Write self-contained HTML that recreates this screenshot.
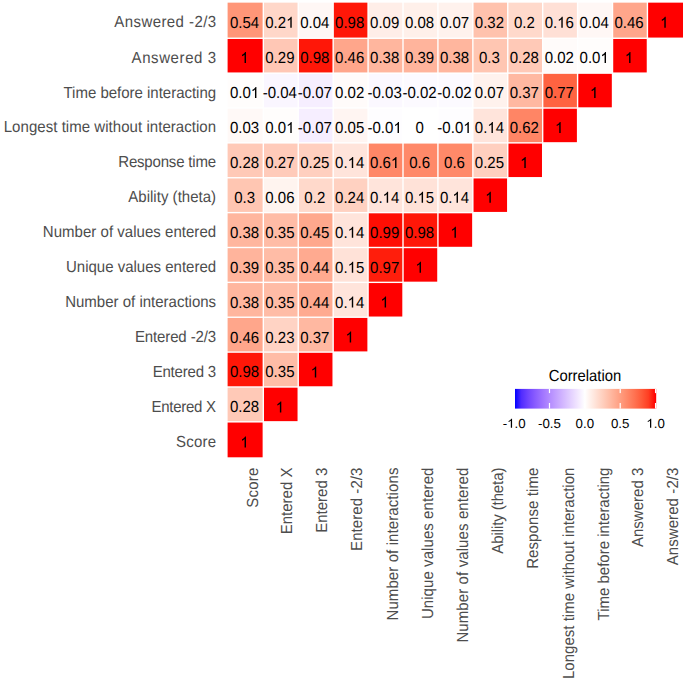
<!DOCTYPE html>
<html><head><meta charset="utf-8"><style>
html,body{margin:0;padding:0;background:#fff;}
svg{display:block;}
text{font-family:"Liberation Sans",sans-serif;text-rendering:geometricPrecision;}
.n{font-size:16.000px;fill:#000;}
.yl{font-size:16.000px;fill:#4D4D4D;text-anchor:end;}
.xl{font-size:16.000px;fill:#4D4D4D;text-anchor:end;}
.lt{font-size:13.100px;fill:#000;}
.ttl{font-size:16px;fill:#000;text-anchor:middle;}
</style></head><body>
<svg width="685" height="682" viewBox="0 0 685 682">
<rect x="227.60" y="2.65" width="35.02" height="34.92" fill="#FF9678"/>
<rect x="264.02" y="2.65" width="33.52" height="34.92" fill="#FFD7C9"/>
<rect x="298.94" y="2.65" width="33.52" height="34.92" fill="#FFF7F5"/>
<rect x="333.86" y="2.65" width="33.52" height="34.92" fill="#FF1708"/>
<rect x="368.78" y="2.65" width="33.52" height="34.92" fill="#FFEEE8"/>
<rect x="403.70" y="2.65" width="33.52" height="34.92" fill="#FFF0EA"/>
<rect x="438.62" y="2.65" width="33.52" height="34.92" fill="#FFF2ED"/>
<rect x="473.54" y="2.65" width="33.52" height="34.92" fill="#FFC2AD"/>
<rect x="508.46" y="2.65" width="33.52" height="34.92" fill="#FFD9CB"/>
<rect x="543.38" y="2.65" width="33.52" height="34.92" fill="#FFE0D6"/>
<rect x="578.30" y="2.65" width="33.52" height="34.92" fill="#FFF7F5"/>
<rect x="613.22" y="2.65" width="33.52" height="34.92" fill="#FFA68B"/>
<rect x="648.14" y="2.65" width="34.86" height="34.92" fill="#FF0000"/>
<rect x="227.60" y="38.97" width="35.02" height="33.47" fill="#FF0000"/>
<rect x="264.02" y="38.97" width="33.52" height="33.47" fill="#FFC7B5"/>
<rect x="298.94" y="38.97" width="33.52" height="33.47" fill="#FF1708"/>
<rect x="333.86" y="38.97" width="33.52" height="33.47" fill="#FFA68B"/>
<rect x="368.78" y="38.97" width="33.52" height="33.47" fill="#FFB69E"/>
<rect x="403.70" y="38.97" width="33.52" height="33.47" fill="#FFB49C"/>
<rect x="438.62" y="38.97" width="33.52" height="33.47" fill="#FFB69E"/>
<rect x="473.54" y="38.97" width="33.52" height="33.47" fill="#FFC6B2"/>
<rect x="508.46" y="38.97" width="33.52" height="33.47" fill="#FFC9B7"/>
<rect x="543.38" y="38.97" width="33.52" height="33.47" fill="#FFFBFA"/>
<rect x="578.30" y="38.97" width="33.52" height="33.47" fill="#FFFDFC"/>
<rect x="613.22" y="38.97" width="33.52" height="33.47" fill="#FF0000"/>
<rect x="227.60" y="73.84" width="35.02" height="33.47" fill="#FFFDFC"/>
<rect x="264.02" y="73.84" width="33.52" height="33.47" fill="#FAF6FF"/>
<rect x="298.94" y="73.84" width="33.52" height="33.47" fill="#F6EEFF"/>
<rect x="333.86" y="73.84" width="33.52" height="33.47" fill="#FFFBFA"/>
<rect x="368.78" y="73.84" width="33.52" height="33.47" fill="#FBF8FF"/>
<rect x="403.70" y="73.84" width="33.52" height="33.47" fill="#FCFAFF"/>
<rect x="438.62" y="73.84" width="33.52" height="33.47" fill="#FCFAFF"/>
<rect x="473.54" y="73.84" width="33.52" height="33.47" fill="#FFF2ED"/>
<rect x="508.46" y="73.84" width="33.52" height="33.47" fill="#FFB8A1"/>
<rect x="543.38" y="73.84" width="33.52" height="33.47" fill="#FF6341"/>
<rect x="578.30" y="73.84" width="33.52" height="33.47" fill="#FF0000"/>
<rect x="227.60" y="108.71" width="35.02" height="33.47" fill="#FFF9F7"/>
<rect x="264.02" y="108.71" width="33.52" height="33.47" fill="#FFFDFC"/>
<rect x="298.94" y="108.71" width="33.52" height="33.47" fill="#F6EEFF"/>
<rect x="333.86" y="108.71" width="33.52" height="33.47" fill="#FFF5F2"/>
<rect x="368.78" y="108.71" width="33.52" height="33.47" fill="#FEFDFF"/>
<rect x="403.70" y="108.71" width="33.52" height="33.47" fill="#FFFFFF"/>
<rect x="438.62" y="108.71" width="33.52" height="33.47" fill="#FEFDFF"/>
<rect x="473.54" y="108.71" width="33.52" height="33.47" fill="#FFE4DB"/>
<rect x="508.46" y="108.71" width="33.52" height="33.47" fill="#FF8565"/>
<rect x="543.38" y="108.71" width="33.52" height="33.47" fill="#FF0000"/>
<rect x="227.60" y="143.58" width="35.02" height="33.47" fill="#FFC9B7"/>
<rect x="264.02" y="143.58" width="33.52" height="33.47" fill="#FFCBBA"/>
<rect x="298.94" y="143.58" width="33.52" height="33.47" fill="#FFCFBF"/>
<rect x="333.86" y="143.58" width="33.52" height="33.47" fill="#FFE4DB"/>
<rect x="368.78" y="143.58" width="33.52" height="33.47" fill="#FF8767"/>
<rect x="403.70" y="143.58" width="33.52" height="33.47" fill="#FF8969"/>
<rect x="438.62" y="143.58" width="33.52" height="33.47" fill="#FF8969"/>
<rect x="473.54" y="143.58" width="33.52" height="33.47" fill="#FFCFBF"/>
<rect x="508.46" y="143.58" width="33.52" height="33.47" fill="#FF0000"/>
<rect x="227.60" y="178.45" width="35.02" height="33.47" fill="#FFC6B2"/>
<rect x="264.02" y="178.45" width="33.52" height="33.47" fill="#FFF4EF"/>
<rect x="298.94" y="178.45" width="33.52" height="33.47" fill="#FFD9CB"/>
<rect x="333.86" y="178.45" width="33.52" height="33.47" fill="#FFD1C1"/>
<rect x="368.78" y="178.45" width="33.52" height="33.47" fill="#FFE4DB"/>
<rect x="403.70" y="178.45" width="33.52" height="33.47" fill="#FFE2D8"/>
<rect x="438.62" y="178.45" width="33.52" height="33.47" fill="#FFE4DB"/>
<rect x="473.54" y="178.45" width="33.52" height="33.47" fill="#FF0000"/>
<rect x="227.60" y="213.32" width="35.02" height="33.47" fill="#FFB69E"/>
<rect x="264.02" y="213.32" width="33.52" height="33.47" fill="#FFBCA6"/>
<rect x="298.94" y="213.32" width="33.52" height="33.47" fill="#FFA88D"/>
<rect x="333.86" y="213.32" width="33.52" height="33.47" fill="#FFE4DB"/>
<rect x="368.78" y="213.32" width="33.52" height="33.47" fill="#FF0E04"/>
<rect x="403.70" y="213.32" width="33.52" height="33.47" fill="#FF1708"/>
<rect x="438.62" y="213.32" width="33.52" height="33.47" fill="#FF0000"/>
<rect x="227.60" y="248.19" width="35.02" height="33.47" fill="#FFB49C"/>
<rect x="264.02" y="248.19" width="33.52" height="33.47" fill="#FFBCA6"/>
<rect x="298.94" y="248.19" width="33.52" height="33.47" fill="#FFAA90"/>
<rect x="333.86" y="248.19" width="33.52" height="33.47" fill="#FFE2D8"/>
<rect x="368.78" y="248.19" width="33.52" height="33.47" fill="#FF1E0C"/>
<rect x="403.70" y="248.19" width="33.52" height="33.47" fill="#FF0000"/>
<rect x="227.60" y="283.06" width="35.02" height="33.47" fill="#FFB69E"/>
<rect x="264.02" y="283.06" width="33.52" height="33.47" fill="#FFBCA6"/>
<rect x="298.94" y="283.06" width="33.52" height="33.47" fill="#FFAA90"/>
<rect x="333.86" y="283.06" width="33.52" height="33.47" fill="#FFE4DB"/>
<rect x="368.78" y="283.06" width="33.52" height="33.47" fill="#FF0000"/>
<rect x="227.60" y="317.93" width="35.02" height="33.47" fill="#FFA68B"/>
<rect x="264.02" y="317.93" width="33.52" height="33.47" fill="#FFD3C4"/>
<rect x="298.94" y="317.93" width="33.52" height="33.47" fill="#FFB8A1"/>
<rect x="333.86" y="317.93" width="33.52" height="33.47" fill="#FF0000"/>
<rect x="227.60" y="352.80" width="35.02" height="33.47" fill="#FF1708"/>
<rect x="264.02" y="352.80" width="33.52" height="33.47" fill="#FFBCA6"/>
<rect x="298.94" y="352.80" width="33.52" height="33.47" fill="#FF0000"/>
<rect x="227.60" y="387.67" width="35.02" height="33.47" fill="#FFC9B7"/>
<rect x="264.02" y="387.67" width="33.52" height="33.47" fill="#FF0000"/>
<rect x="227.60" y="422.54" width="35.02" height="34.76" fill="#FF0000"/>
<text transform="scale(0.93750,1)" x="245.29 254.19 258.64 267.54" y="27.82" class="n">0.54</text>
<text transform="scale(0.93750,1)" x="282.97 291.87 296.31" y="27.82" class="n">0.2</text>
<path d="M763 0L570 0L570 1135C530 1098 483 1064 413 1023C343 982 280 951 223 930L223 1104C324 1151 412 1208 487 1276C562 1343 615 1409 647 1472L763 1472Z" fill="#000" transform="translate(286.13,27.82) scale(0.00732,-0.00748)"/>
<text transform="scale(0.93750,1)" x="320.22 329.11 333.56 342.46" y="27.82" class="n">0.04</text>
<text transform="scale(0.93750,1)" x="357.46 366.36 370.81 379.71" y="27.82" class="n">0.98</text>
<text transform="scale(0.93750,1)" x="394.71 403.61 408.06 416.95" y="27.82" class="n">0.09</text>
<text transform="scale(0.93750,1)" x="431.96 440.86 445.30 454.20" y="27.82" class="n">0.08</text>
<text transform="scale(0.93750,1)" x="469.21 478.11 482.55 491.45" y="27.82" class="n">0.07</text>
<text transform="scale(0.93750,1)" x="506.46 515.35 519.80 528.70" y="27.82" class="n">0.32</text>
<text transform="scale(0.93750,1)" x="548.15 557.05 561.50" y="27.82" class="n">0.2</text>
<text transform="scale(0.93750,1)" x="580.95 589.85 603.19" y="27.82" class="n">0.6</text>
<path d="M763 0L570 0L570 1135C530 1098 483 1064 413 1023C343 982 280 951 223 930L223 1104C324 1151 412 1208 487 1276C562 1343 615 1409 647 1472L763 1472Z" fill="#000" transform="translate(557.15,27.82) scale(0.00732,-0.00748)"/>
<text transform="scale(0.93750,1)" x="618.20 627.10 631.54 640.44" y="27.82" class="n">0.04</text>
<text transform="scale(0.93750,1)" x="655.45 664.35 668.79 677.69" y="27.82" class="n">0.46</text>
<path d="M763 0L570 0L570 1135C530 1098 483 1064 413 1023C343 982 280 951 223 930L223 1104C324 1151 412 1208 487 1276C562 1343 615 1409 647 1472L763 1472Z" fill="#000" transform="translate(660.15,27.82) scale(0.00732,-0.00748)"/>
<path d="M763 0L570 0L570 1135C530 1098 483 1064 413 1023C343 982 280 951 223 930L223 1104C324 1151 412 1208 487 1276C562 1343 615 1409 647 1472L763 1472Z" fill="#000" transform="translate(240.39,63.12) scale(0.00732,-0.00748)"/>
<text transform="scale(0.93750,1)" x="282.97 291.87 296.31 305.21" y="63.12" class="n">0.29</text>
<text transform="scale(0.93750,1)" x="320.22 329.11 333.56 342.46" y="63.12" class="n">0.98</text>
<text transform="scale(0.93750,1)" x="357.46 366.36 370.81 379.71" y="63.12" class="n">0.46</text>
<text transform="scale(0.93750,1)" x="394.71 403.61 408.06 416.95" y="63.12" class="n">0.38</text>
<text transform="scale(0.93750,1)" x="431.96 440.86 445.30 454.20" y="63.12" class="n">0.39</text>
<text transform="scale(0.93750,1)" x="469.21 478.11 482.55 491.45" y="63.12" class="n">0.38</text>
<text transform="scale(0.93750,1)" x="510.91 519.80 524.25" y="63.12" class="n">0.3</text>
<text transform="scale(0.93750,1)" x="543.70 552.60 557.05 565.95" y="63.12" class="n">0.28</text>
<text transform="scale(0.93750,1)" x="580.95 589.85 594.30 603.19" y="63.12" class="n">0.02</text>
<text transform="scale(0.93750,1)" x="618.20 627.10 631.54" y="63.12" class="n">0.0</text>
<path d="M763 0L570 0L570 1135C530 1098 483 1064 413 1023C343 982 280 951 223 930L223 1104C324 1151 412 1208 487 1276C562 1343 615 1409 647 1472L763 1472Z" fill="#000" transform="translate(600.41,63.12) scale(0.00732,-0.00748)"/>
<path d="M763 0L570 0L570 1135C530 1098 483 1064 413 1023C343 982 280 951 223 930L223 1104C324 1151 412 1208 487 1276C562 1343 615 1409 647 1472L763 1472Z" fill="#000" transform="translate(624.91,63.12) scale(0.00732,-0.00748)"/>
<text transform="scale(0.93750,1)" x="245.29 254.19 258.64" y="98.05" class="n">0.0</text>
<path d="M763 0L570 0L570 1135C530 1098 483 1064 413 1023C343 982 280 951 223 930L223 1104C324 1151 412 1208 487 1276C562 1343 615 1409 647 1472L763 1472Z" fill="#000" transform="translate(250.81,98.05) scale(0.00732,-0.00748)"/>
<text transform="scale(0.93750,1)" x="280.30 285.63 294.53 298.98 307.87" y="98.05" class="n">-0.04</text>
<text transform="scale(0.93750,1)" x="317.55 322.88 331.78 336.22 345.12" y="98.05" class="n">-0.07</text>
<text transform="scale(0.93750,1)" x="357.46 366.36 370.81 379.71" y="98.05" class="n">0.02</text>
<text transform="scale(0.93750,1)" x="392.05 397.38 406.27 410.72 419.62" y="98.05" class="n">-0.03</text>
<text transform="scale(0.93750,1)" x="429.30 434.62 443.52 447.97 456.87" y="98.05" class="n">-0.02</text>
<text transform="scale(0.93750,1)" x="466.54 471.87 480.77 485.22 494.11" y="98.05" class="n">-0.02</text>
<text transform="scale(0.93750,1)" x="506.46 515.35 519.80 528.70" y="98.05" class="n">0.07</text>
<text transform="scale(0.93750,1)" x="543.70 552.60 557.05 565.95" y="98.05" class="n">0.37</text>
<text transform="scale(0.93750,1)" x="580.95 589.85 594.30 603.19" y="98.05" class="n">0.77</text>
<path d="M763 0L570 0L570 1135C530 1098 483 1064 413 1023C343 982 280 951 223 930L223 1104C324 1151 412 1208 487 1276C562 1343 615 1409 647 1472L763 1472Z" fill="#000" transform="translate(589.99,98.05) scale(0.00732,-0.00748)"/>
<text transform="scale(0.93750,1)" x="245.29 254.19 258.64 267.54" y="132.98" class="n">0.03</text>
<text transform="scale(0.93750,1)" x="282.97 291.87 296.31" y="132.98" class="n">0.0</text>
<path d="M763 0L570 0L570 1135C530 1098 483 1064 413 1023C343 982 280 951 223 930L223 1104C324 1151 412 1208 487 1276C562 1343 615 1409 647 1472L763 1472Z" fill="#000" transform="translate(286.13,132.98) scale(0.00732,-0.00748)"/>
<text transform="scale(0.93750,1)" x="317.55 322.88 331.78 336.22 345.12" y="132.98" class="n">-0.07</text>
<text transform="scale(0.93750,1)" x="357.46 366.36 370.81 379.71" y="132.98" class="n">0.05</text>
<text transform="scale(0.93750,1)" x="392.05 397.38 406.27 410.72" y="132.98" class="n">-0.0</text>
<path d="M763 0L570 0L570 1135C530 1098 483 1064 413 1023C343 982 280 951 223 930L223 1104C324 1151 412 1208 487 1276C562 1343 615 1409 647 1472L763 1472Z" fill="#000" transform="translate(393.39,132.98) scale(0.00732,-0.00748)"/>
<text transform="scale(0.93750,1)" x="443.08" y="132.98" class="n">0</text>
<text transform="scale(0.93750,1)" x="466.54 471.87 480.77 485.22" y="132.98" class="n">-0.0</text>
<path d="M763 0L570 0L570 1135C530 1098 483 1064 413 1023C343 982 280 951 223 930L223 1104C324 1151 412 1208 487 1276C562 1343 615 1409 647 1472L763 1472Z" fill="#000" transform="translate(463.23,132.98) scale(0.00732,-0.00748)"/>
<text transform="scale(0.93750,1)" x="506.46 515.35 528.70" y="132.98" class="n">0.4</text>
<path d="M763 0L570 0L570 1135C530 1098 483 1064 413 1023C343 982 280 951 223 930L223 1104C324 1151 412 1208 487 1276C562 1343 615 1409 647 1472L763 1472Z" fill="#000" transform="translate(487.31,132.98) scale(0.00732,-0.00748)"/>
<text transform="scale(0.93750,1)" x="543.70 552.60 557.05 565.95" y="132.98" class="n">0.62</text>
<path d="M763 0L570 0L570 1135C530 1098 483 1064 413 1023C343 982 280 951 223 930L223 1104C324 1151 412 1208 487 1276C562 1343 615 1409 647 1472L763 1472Z" fill="#000" transform="translate(555.07,132.98) scale(0.00732,-0.00748)"/>
<text transform="scale(0.93750,1)" x="245.29 254.19 258.64 267.54" y="167.90" class="n">0.28</text>
<text transform="scale(0.93750,1)" x="282.97 291.87 296.31 305.21" y="167.90" class="n">0.27</text>
<text transform="scale(0.93750,1)" x="320.22 329.11 333.56 342.46" y="167.90" class="n">0.25</text>
<text transform="scale(0.93750,1)" x="357.46 366.36 379.71" y="167.90" class="n">0.4</text>
<path d="M763 0L570 0L570 1135C530 1098 483 1064 413 1023C343 982 280 951 223 930L223 1104C324 1151 412 1208 487 1276C562 1343 615 1409 647 1472L763 1472Z" fill="#000" transform="translate(347.63,167.90) scale(0.00732,-0.00748)"/>
<text transform="scale(0.93750,1)" x="394.71 403.61 408.06" y="167.90" class="n">0.6</text>
<path d="M763 0L570 0L570 1135C530 1098 483 1064 413 1023C343 982 280 951 223 930L223 1104C324 1151 412 1208 487 1276C562 1343 615 1409 647 1472L763 1472Z" fill="#000" transform="translate(390.89,167.90) scale(0.00732,-0.00748)"/>
<text transform="scale(0.93750,1)" x="436.41 445.31 449.75" y="167.90" class="n">0.6</text>
<text transform="scale(0.93750,1)" x="473.66 482.56 487.00" y="167.90" class="n">0.6</text>
<text transform="scale(0.93750,1)" x="506.46 515.35 519.80 528.70" y="167.90" class="n">0.25</text>
<path d="M763 0L570 0L570 1135C530 1098 483 1064 413 1023C343 982 280 951 223 930L223 1104C324 1151 412 1208 487 1276C562 1343 615 1409 647 1472L763 1472Z" fill="#000" transform="translate(520.15,167.90) scale(0.00732,-0.00748)"/>
<text transform="scale(0.93750,1)" x="249.74 258.64 263.09" y="202.83" class="n">0.3</text>
<text transform="scale(0.93750,1)" x="282.97 291.87 296.31 305.21" y="202.83" class="n">0.06</text>
<text transform="scale(0.93750,1)" x="324.67 333.56 338.01" y="202.83" class="n">0.2</text>
<text transform="scale(0.93750,1)" x="357.46 366.36 370.81 379.71" y="202.83" class="n">0.24</text>
<text transform="scale(0.93750,1)" x="394.71 403.61 416.95" y="202.83" class="n">0.4</text>
<path d="M763 0L570 0L570 1135C530 1098 483 1064 413 1023C343 982 280 951 223 930L223 1104C324 1151 412 1208 487 1276C562 1343 615 1409 647 1472L763 1472Z" fill="#000" transform="translate(382.55,202.83) scale(0.00732,-0.00748)"/>
<text transform="scale(0.93750,1)" x="431.96 440.86 454.20" y="202.83" class="n">0.5</text>
<path d="M763 0L570 0L570 1135C530 1098 483 1064 413 1023C343 982 280 951 223 930L223 1104C324 1151 412 1208 487 1276C562 1343 615 1409 647 1472L763 1472Z" fill="#000" transform="translate(417.47,202.83) scale(0.00732,-0.00748)"/>
<text transform="scale(0.93750,1)" x="469.21 478.11 491.45" y="202.83" class="n">0.4</text>
<path d="M763 0L570 0L570 1135C530 1098 483 1064 413 1023C343 982 280 951 223 930L223 1104C324 1151 412 1208 487 1276C562 1343 615 1409 647 1472L763 1472Z" fill="#000" transform="translate(452.39,202.83) scale(0.00732,-0.00748)"/>
<path d="M763 0L570 0L570 1135C530 1098 483 1064 413 1023C343 982 280 951 223 930L223 1104C324 1151 412 1208 487 1276C562 1343 615 1409 647 1472L763 1472Z" fill="#000" transform="translate(485.23,202.83) scale(0.00732,-0.00748)"/>
<text transform="scale(0.93750,1)" x="245.29 254.19 258.64 267.54" y="237.76" class="n">0.38</text>
<text transform="scale(0.93750,1)" x="282.97 291.87 296.31 305.21" y="237.76" class="n">0.35</text>
<text transform="scale(0.93750,1)" x="320.22 329.11 333.56 342.46" y="237.76" class="n">0.45</text>
<text transform="scale(0.93750,1)" x="357.46 366.36 379.71" y="237.76" class="n">0.4</text>
<path d="M763 0L570 0L570 1135C530 1098 483 1064 413 1023C343 982 280 951 223 930L223 1104C324 1151 412 1208 487 1276C562 1343 615 1409 647 1472L763 1472Z" fill="#000" transform="translate(347.63,237.76) scale(0.00732,-0.00748)"/>
<text transform="scale(0.93750,1)" x="394.71 403.61 408.06 416.95" y="237.76" class="n">0.99</text>
<text transform="scale(0.93750,1)" x="431.96 440.86 445.30 454.20" y="237.76" class="n">0.98</text>
<path d="M763 0L570 0L570 1135C530 1098 483 1064 413 1023C343 982 280 951 223 930L223 1104C324 1151 412 1208 487 1276C562 1343 615 1409 647 1472L763 1472Z" fill="#000" transform="translate(450.31,237.76) scale(0.00732,-0.00748)"/>
<text transform="scale(0.93750,1)" x="245.29 254.19 258.64 267.54" y="272.68" class="n">0.39</text>
<text transform="scale(0.93750,1)" x="282.97 291.87 296.31 305.21" y="272.68" class="n">0.35</text>
<text transform="scale(0.93750,1)" x="320.22 329.11 333.56 342.46" y="272.68" class="n">0.44</text>
<text transform="scale(0.93750,1)" x="357.46 366.36 379.71" y="272.68" class="n">0.5</text>
<path d="M763 0L570 0L570 1135C530 1098 483 1064 413 1023C343 982 280 951 223 930L223 1104C324 1151 412 1208 487 1276C562 1343 615 1409 647 1472L763 1472Z" fill="#000" transform="translate(347.63,272.68) scale(0.00732,-0.00748)"/>
<text transform="scale(0.93750,1)" x="394.71 403.61 408.06 416.95" y="272.68" class="n">0.97</text>
<path d="M763 0L570 0L570 1135C530 1098 483 1064 413 1023C343 982 280 951 223 930L223 1104C324 1151 412 1208 487 1276C562 1343 615 1409 647 1472L763 1472Z" fill="#000" transform="translate(415.39,272.68) scale(0.00732,-0.00748)"/>
<text transform="scale(0.93750,1)" x="245.29 254.19 258.64 267.54" y="307.61" class="n">0.38</text>
<text transform="scale(0.93750,1)" x="282.97 291.87 296.31 305.21" y="307.61" class="n">0.35</text>
<text transform="scale(0.93750,1)" x="320.22 329.11 333.56 342.46" y="307.61" class="n">0.44</text>
<text transform="scale(0.93750,1)" x="357.46 366.36 379.71" y="307.61" class="n">0.4</text>
<path d="M763 0L570 0L570 1135C530 1098 483 1064 413 1023C343 982 280 951 223 930L223 1104C324 1151 412 1208 487 1276C562 1343 615 1409 647 1472L763 1472Z" fill="#000" transform="translate(347.63,307.61) scale(0.00732,-0.00748)"/>
<path d="M763 0L570 0L570 1135C530 1098 483 1064 413 1023C343 982 280 951 223 930L223 1104C324 1151 412 1208 487 1276C562 1343 615 1409 647 1472L763 1472Z" fill="#000" transform="translate(380.47,307.61) scale(0.00732,-0.00748)"/>
<text transform="scale(0.93750,1)" x="245.29 254.19 258.64 267.54" y="342.54" class="n">0.46</text>
<text transform="scale(0.93750,1)" x="282.97 291.87 296.31 305.21" y="342.54" class="n">0.23</text>
<text transform="scale(0.93750,1)" x="320.22 329.11 333.56 342.46" y="342.54" class="n">0.37</text>
<path d="M763 0L570 0L570 1135C530 1098 483 1064 413 1023C343 982 280 951 223 930L223 1104C324 1151 412 1208 487 1276C562 1343 615 1409 647 1472L763 1472Z" fill="#000" transform="translate(345.55,342.54) scale(0.00732,-0.00748)"/>
<text transform="scale(0.93750,1)" x="245.29 254.19 258.64 267.54" y="377.46" class="n">0.98</text>
<text transform="scale(0.93750,1)" x="282.97 291.87 296.31 305.21" y="377.46" class="n">0.35</text>
<path d="M763 0L570 0L570 1135C530 1098 483 1064 413 1023C343 982 280 951 223 930L223 1104C324 1151 412 1208 487 1276C562 1343 615 1409 647 1472L763 1472Z" fill="#000" transform="translate(310.63,377.46) scale(0.00732,-0.00748)"/>
<text transform="scale(0.93750,1)" x="245.29 254.19 258.64 267.54" y="412.39" class="n">0.28</text>
<path d="M763 0L570 0L570 1135C530 1098 483 1064 413 1023C343 982 280 951 223 930L223 1104C324 1151 412 1208 487 1276C562 1343 615 1409 647 1472L763 1472Z" fill="#000" transform="translate(275.71,412.39) scale(0.00732,-0.00748)"/>
<path d="M763 0L570 0L570 1135C530 1098 483 1064 413 1023C343 982 280 951 223 930L223 1104C324 1151 412 1208 487 1276C562 1343 615 1409 647 1472L763 1472Z" fill="#000" transform="translate(240.39,447.61) scale(0.00732,-0.00748)"/>
<text transform="translate(216.1,27.32) scale(0.93750,1)" class="yl" textLength="108.61" lengthAdjust="spacing">Answered -2/3</text>
<text transform="translate(216.1,62.62) scale(0.93750,1)" class="yl" textLength="90.17" lengthAdjust="spacing">Answered 3</text>
<text transform="translate(216.1,97.55) scale(0.93750,1)" class="yl" textLength="162.75" lengthAdjust="spacing">Time before interacting</text>
<text transform="translate(216.1,132.48) scale(0.93750,1)" class="yl" textLength="226.56" lengthAdjust="spacing">Longest time without interaction</text>
<text transform="translate(216.1,167.40) scale(0.93750,1)" class="yl" textLength="104.39" lengthAdjust="spacing">Response time</text>
<text transform="translate(216.1,202.33) scale(0.93750,1)" class="yl" textLength="93.70" lengthAdjust="spacing">Ability (theta)</text>
<text transform="translate(216.1,237.26) scale(0.93750,1)" class="yl" textLength="184.79" lengthAdjust="spacing">Number of values entered</text>
<text transform="translate(216.1,272.18) scale(0.93750,1)" class="yl" textLength="160.13" lengthAdjust="spacing">Unique values entered</text>
<text transform="translate(216.1,307.11) scale(0.93750,1)" class="yl" textLength="161.00" lengthAdjust="spacing">Number of interactions</text>
<text transform="translate(216.1,342.04) scale(0.93750,1)" class="yl" textLength="86.60" lengthAdjust="spacing">Entered -2/3</text>
<text transform="translate(216.1,376.96) scale(0.93750,1)" class="yl" textLength="67.69" lengthAdjust="spacing">Entered 3</text>
<text transform="translate(216.1,411.89) scale(0.93750,1)" class="yl" textLength="69.04" lengthAdjust="spacing">Entered X</text>
<text transform="translate(216.1,447.11) scale(0.93750,1)" class="yl" textLength="42.66" lengthAdjust="spacing">Score</text>
<text transform="translate(257.96,467.6) rotate(-90) scale(0.93750,1)" class="xl" textLength="42.87" lengthAdjust="spacing">Score</text>
<text transform="translate(292.48,467.6) rotate(-90) scale(0.93750,1)" class="xl" textLength="71.17" lengthAdjust="spacing">Entered X</text>
<text transform="translate(327.20,467.6) rotate(-90) scale(0.93750,1)" class="xl" textLength="69.61" lengthAdjust="spacing">Entered 3</text>
<text transform="translate(361.92,467.6) rotate(-90) scale(0.93750,1)" class="xl" textLength="88.83" lengthAdjust="spacing">Entered -2/3</text>
<text transform="translate(397.74,467.6) rotate(-90) scale(0.93750,1)" class="xl" textLength="163.13" lengthAdjust="spacing">Number of interactions</text>
<text transform="translate(432.66,467.6) rotate(-90) scale(0.93750,1)" class="xl" textLength="161.63" lengthAdjust="spacing">Unique values entered</text>
<text transform="translate(467.68,467.6) rotate(-90) scale(0.93750,1)" class="xl" textLength="186.70" lengthAdjust="spacing">Number of values entered</text>
<text transform="translate(503.30,467.6) rotate(-90) scale(0.93750,1)" class="xl" textLength="91.79" lengthAdjust="spacing">Ability (theta)</text>
<text transform="translate(538.22,467.6) rotate(-90) scale(0.93750,1)" class="xl" textLength="108.01" lengthAdjust="spacing">Response time</text>
<text transform="translate(574.14,467.6) rotate(-90) scale(0.93750,1)" class="xl" textLength="225.49" lengthAdjust="spacing">Longest time without interaction</text>
<text transform="translate(608.96,467.6) rotate(-90) scale(0.93750,1)" class="xl" textLength="163.07" lengthAdjust="spacing">Time before interacting</text>
<text transform="translate(642.98,467.6) rotate(-90) scale(0.93750,1)" class="xl" textLength="84.82" lengthAdjust="spacing">Answered 3</text>
<text transform="translate(678.22,467.6) rotate(-90) scale(0.93750,1)" class="xl" textLength="104.25" lengthAdjust="spacing">Answered -2/3</text>
<defs><linearGradient id="g" gradientUnits="objectBoundingBox" x1="0" x2="1" y1="0" y2="0"><stop offset="-0.0060" stop-color="#0000FF"/><stop offset="0.0441" stop-color="#502BFF"/><stop offset="0.0941" stop-color="#7145FF"/><stop offset="0.1442" stop-color="#8A5DFF"/><stop offset="0.1943" stop-color="#A074FF"/><stop offset="0.2443" stop-color="#B38BFF"/><stop offset="0.2944" stop-color="#C4A2FF"/><stop offset="0.3445" stop-color="#D4B9FF"/><stop offset="0.3945" stop-color="#E3D0FF"/><stop offset="0.4446" stop-color="#F2E7FF"/><stop offset="0.4947" stop-color="#FFFFFF"/><stop offset="0.5448" stop-color="#FFECE5"/><stop offset="0.5948" stop-color="#FFD9CB"/><stop offset="0.6449" stop-color="#FFC6B2"/><stop offset="0.6950" stop-color="#FFB299"/><stop offset="0.7450" stop-color="#FF9E81"/><stop offset="0.7951" stop-color="#FF8969"/><stop offset="0.8452" stop-color="#FF7352"/><stop offset="0.8953" stop-color="#FF5B3A"/><stop offset="0.9453" stop-color="#FF3E22"/><stop offset="0.9954" stop-color="#FF0000"/></linearGradient></defs>
<rect x="515.0" y="388.9" width="141.20" height="19.70" fill="url(#g)"/>
<rect x="513.55" y="388.9" width="1.2" height="4.2" fill="#fff"/>
<rect x="513.55" y="403.00" width="1.2" height="5.6" fill="#fff"/>
<text transform="scale(1.01527,1)" x="495.13 506.78 510.42" y="427.80" class="lt">-.0</text>
<path d="M763 0L570 0L570 1135C530 1098 483 1064 413 1023C343 982 280 951 223 930L223 1104C324 1151 412 1208 487 1276C562 1343 615 1409 647 1472L763 1472Z" fill="#000" transform="translate(507.12,427.80) scale(0.00649,-0.00612)"/>
<rect x="548.90" y="388.9" width="1.2" height="4.2" fill="#fff"/>
<rect x="548.90" y="403.00" width="1.2" height="5.6" fill="#fff"/>
<text transform="scale(1.01527,1)" x="529.95 534.31 541.60 545.24" y="427.80" class="lt">-0.5</text>
<rect x="584.25" y="388.9" width="1.2" height="4.2" fill="#fff"/>
<rect x="584.25" y="403.00" width="1.2" height="5.6" fill="#fff"/>
<text transform="scale(1.01527,1)" x="566.95 574.24 577.88" y="427.80" class="lt">0.0</text>
<rect x="619.60" y="388.9" width="1.2" height="4.2" fill="#fff"/>
<rect x="619.60" y="403.00" width="1.2" height="5.6" fill="#fff"/>
<text transform="scale(1.01527,1)" x="601.77 609.05 612.69" y="427.80" class="lt">0.5</text>
<rect x="654.95" y="388.9" width="1.2" height="4.2" fill="#fff"/>
<rect x="654.95" y="403.00" width="1.2" height="5.6" fill="#fff"/>
<text transform="scale(1.01527,1)" x="643.87 647.51" y="427.80" class="lt">.0</text>
<path d="M763 0L570 0L570 1135C530 1098 483 1064 413 1023C343 982 280 951 223 930L223 1104C324 1151 412 1208 487 1276C562 1343 615 1409 647 1472L763 1472Z" fill="#000" transform="translate(646.31,427.80) scale(0.00649,-0.00612)"/>
<text transform="translate(585,380.5) scale(0.92500,1)" class="ttl" textLength="78.49" lengthAdjust="spacing">Correlation</text>
</svg>
</body></html>
